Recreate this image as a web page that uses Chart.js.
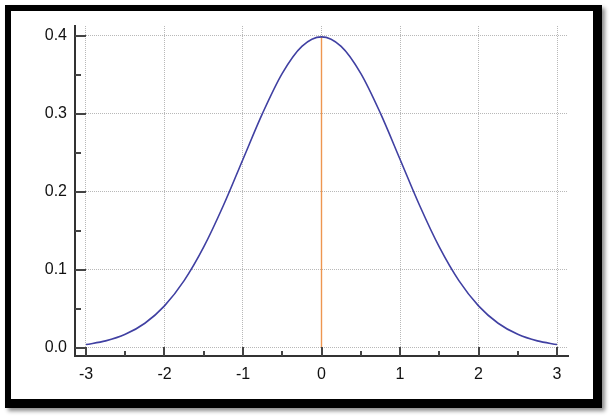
<!DOCTYPE html>
<html>
<head>
<meta charset="utf-8">
<script src="https://cdn.jsdelivr.net/npm/chart.js@4/dist/chart.umd.min.js"></script>
<style>
  html, body { margin: 0; padding: 0; background: #fff; }
  #frame {
    position: absolute; left: 5px; top: 5px;
    width: 582px; height: 388px;
    border-style: solid; border-color: #000;
    border-width: 6px 9px 9px 6px;
    box-shadow: 3px 3px 4px rgba(0,0,0,0.45);
    background: #fff;
  }
  #wrap { position: absolute; left: 0; top: 0; width: 612px; height: 419px; }
</style>
</head>
<body>
<div id="frame"></div>
<div id="wrap"><canvas id="chart" width="612" height="419"></canvas></div>
<script>
// Standard normal density, every 0.25
const xValues = [-3, -2.75, -2.5, -2.25, -2, -1.75, -1.5, -1.25, -1, -0.75, -0.5, -0.25, 0,
                 0.25, 0.5, 0.75, 1, 1.25, 1.5, 1.75, 2, 2.25, 2.5, 2.75, 3];
const densityValues = [0.0044, 0.0091, 0.0175, 0.0317, 0.054, 0.0863, 0.1295, 0.1826, 0.242, 0.3011, 0.3521, 0.3867, 0.3989,
                       0.3867, 0.3521, 0.3011, 0.242, 0.1826, 0.1295, 0.0863, 0.054, 0.0317, 0.0175, 0.0091, 0.0044];
// vertical marker at the mean
const meanLineX = [0, 0];
const meanLineY = [0, 0.3989];

const xTicks = [-3, -2, -1, 0, 1, 2, 3];
const yTicks = [0, 0.1, 0.2, 0.3, 0.4];

// little tick marks drawn inside the plot, like the original
const innerTicks = {
    id: 'innerTicks',
    afterDraw(chart) {
        const ctx = chart.ctx;
        const xs = chart.scales.x, ys = chart.scales.y;
        const area = chart.chartArea;
        ctx.save();
        ctx.strokeStyle = '#444';
        ctx.lineWidth = 2;
        ctx.beginPath();
        for (let v = -3; v <= 3.001; v += 0.5) {
            const px = Math.round(xs.getPixelForValue(v));
            const len = Number.isInteger(v) ? 9 : 5;
            ctx.moveTo(px, area.bottom);
            ctx.lineTo(px, area.bottom - len);
        }
        for (let v = 0; v <= 0.4001; v += 0.05) {
            const py = Math.round(ys.getPixelForValue(v));
            const major = Math.abs(v * 10 - Math.round(v * 10)) < 1e-6;
            ctx.moveTo(area.left, py);
            ctx.lineTo(area.left + (major ? 11 : 6), py);
        }
        ctx.stroke();
        ctx.restore();
    }
};

const ctx = document.getElementById('chart').getContext('2d');
new Chart(ctx, {
    type: 'line',
    data: {
        datasets: [{
            data: xValues.map((x, i) => ({ x: x, y: densityValues[i] })),
            borderColor: '#4040a2',
            borderWidth: 1.6,
            pointRadius: 0,
            cubicInterpolationMode: 'monotone',
            fill: false
        }, {
            data: meanLineX.map((x, i) => ({ x: x, y: meanLineY[i] })),
            borderColor: '#ee9650',
            borderWidth: 1.4,
            pointRadius: 0,
            fill: false
        }]
    },
    options: {
        responsive: false,
        animation: false,
        layout: { padding: { left: 0, right: 44, top: 26, bottom: 0 } },
        plugins: { legend: { display: false }, tooltip: { enabled: false } },
        scales: {
            x: {
                type: 'linear',
                min: -3.14,
                max: 3.14,
                afterBuildTicks: s => { s.ticks = xTicks.map(v => ({ value: v })); },
                afterFit: s => { s.height = 63; },
                grid: { color: '#b8b8b8', drawTicks: false },
                border: { display: true, color: '#333', width: 2, dash: [1, 1] },
                ticks: {
                    color: '#111',
                    font: { family: 'Liberation Sans', size: 16 },
                    padding: 9,
                    maxRotation: 0,
                    callback: v => String(v)
                }
            },
            y: {
                min: -0.0103,
                max: 0.4128,
                afterBuildTicks: s => { s.ticks = yTicks.map(v => ({ value: v })); },
                afterFit: s => { s.width = 75; },
                grid: { color: '#b8b8b8', drawTicks: false },
                border: { display: true, color: '#333', width: 2, dash: [1, 1] },
                ticks: {
                    color: '#111',
                    font: { family: 'Liberation Sans', size: 16 },
                    padding: 8,
                    callback: v => Number(v).toFixed(1)
                }
            }
        }
    },
    plugins: [innerTicks]
});
</script>
</body>
</html>
